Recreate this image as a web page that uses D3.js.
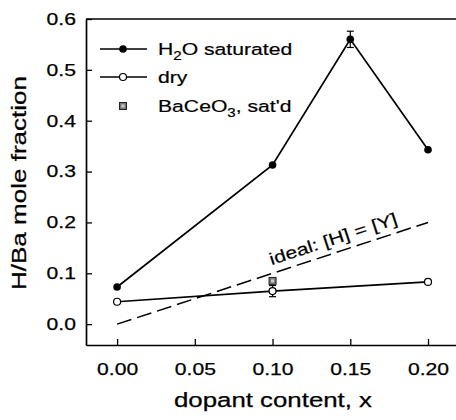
<!DOCTYPE html>
<html><head><meta charset="utf-8">
<script src="https://cdn.jsdelivr.net/npm/d3@7"></script>
<style>
html,body{margin:0;padding:0;background:#fff;}
svg{display:block;}
text{font-family:"Liberation Sans",Arial,Helvetica,sans-serif;fill:#000;}
</style></head>
<body>
<svg id="chart" width="456" height="420"></svg>
<script>
// ---- data ----
const xTicks = [0.00, 0.05, 0.10, 0.15, 0.20];
const yTicks = [0.0, 0.1, 0.2, 0.3, 0.4, 0.5, 0.6];
const satX = [0.00, 0.10, 0.15, 0.20];
const satY = [0.073, 0.313, 0.560, 0.343];
const satErr = [0, 0, 0.016, 0];
const dryX = [0.00, 0.10, 0.20];
const dryY = [0.044, 0.065, 0.083];
const dryErr = [0, 0.011, 0];
const ceX = [0.10];
const ceY = [0.085];
const idealX = [0.00, 0.20];
const idealY = [0.00, 0.20];

const svg = d3.select("#chart");
const x = d3.scaleLinear().domain([-0.02, 0.218]).range([86, 456]);
const y = d3.scaleLinear().domain([-0.041, 0.6]).range([345, 19]);
const FS = 16.8;
const STRETCH = 1.26;

function stretch(sel, factor) {
  sel.each(function() {
    const L = this.getComputedTextLength();
    this.setAttribute("textLength", (L * factor).toFixed(2));
    this.setAttribute("lengthAdjust", "spacingAndGlyphs");
  });
}

// axes
const xAxis = d3.axisBottom(x).tickValues(xTicks).tickFormat(d3.format(".2f"))
  .tickSizeInner(-6).tickSizeOuter(0).tickPadding(18);
const yAxis = d3.axisLeft(y).tickValues(yTicks).tickFormat(d3.format(".1f"))
  .tickSizeInner(-6).tickSizeOuter(0).tickPadding(10);

const gx = svg.append("g").attr("transform", "translate(0,345)").call(xAxis);
const gy = svg.append("g").attr("transform", "translate(86,0)").call(yAxis);
[gx, gy].forEach(g => {
  g.select(".domain").attr("stroke", "#000").attr("stroke-width", 1.7);
  g.selectAll(".tick line").attr("stroke", "#000").attr("stroke-width", 1.3);
  g.selectAll(".tick text").attr("font-size", FS).attr("fill", "#000")
    .attr("font-family", "Liberation Sans, Arial, sans-serif")
    .attr("stroke", "#000").attr("stroke-width", 0.25);
});
stretch(gx.selectAll(".tick text"), STRETCH);
stretch(gy.selectAll(".tick text"), STRETCH);
// top frame line
svg.append("line").attr("x1", x.range()[0]).attr("x2", x.range()[1])
  .attr("y1", y(0.6)).attr("y2", y(0.6)).attr("stroke", "#000").attr("stroke-width", 1.7);

// axis titles
const xt = svg.append("text").attr("x", 273).attr("y", 407).attr("text-anchor", "middle")
  .attr("font-size", 20).attr("stroke", "#000").attr("stroke-width", 0.25).text("dopant content, x");
xt.attr("textLength", 198).attr("lengthAdjust", "spacingAndGlyphs");
const yt = svg.append("text").attr("transform", "translate(26,183) rotate(-90)")
  .attr("text-anchor", "middle").attr("font-size", 20).attr("stroke", "#000").attr("stroke-width", 0.25)
  .text("H/Ba mole fraction");
yt.attr("textLength", 214).attr("lengthAdjust", "spacingAndGlyphs");

// ideal dashed line
const line = d3.line().x(d => x(d[0])).y(d => y(d[1]));
svg.append("path").datum(d3.zip(idealX, idealY)).attr("d", line)
  .attr("fill", "none").attr("stroke", "#000").attr("stroke-width", 1.5)
  .attr("stroke-dasharray", "15,6");
const ang = Math.atan2(y(idealY[0]) - y(idealY[1]), x(idealX[1]) - x(idealX[0])) * 180 / Math.PI;
const lx = 0.101;
const it = svg.append("text")
  .attr("transform", `translate(${x(lx)},${y(lx)}) rotate(${-ang}) translate(0,-8)`)
  .attr("font-size", FS).attr("stroke", "#000").attr("stroke-width", 0.2).text("ideal: [H] = [Y]");
stretch(it, STRETCH);

// data lines
svg.append("path").datum(d3.zip(satX, satY)).attr("d", line)
  .attr("fill", "none").attr("stroke", "#000").attr("stroke-width", 1.7);
svg.append("path").datum(d3.zip(dryX, dryY)).attr("d", line)
  .attr("fill", "none").attr("stroke", "#000").attr("stroke-width", 1.7);

// error bars
function errBars(xs, ys, es) {
  xs.forEach((xv, i) => {
    if (!es[i]) return;
    const g = svg.append("g").attr("stroke", "#000").attr("stroke-width", 1.2);
    g.append("line").attr("x1", x(xv)).attr("x2", x(xv)).attr("y1", y(ys[i] - es[i])).attr("y2", y(ys[i] + es[i]));
    [ys[i] - es[i], ys[i] + es[i]].forEach(v =>
      g.append("line").attr("x1", x(xv) - 3.5).attr("x2", x(xv) + 3.5).attr("y1", y(v)).attr("y2", y(v)));
  });
}
errBars(satX, satY, satErr);
errBars(dryX, dryY, dryErr);

// markers
function filled(g, cx, cy) { g.append("circle").attr("cx", cx).attr("cy", cy).attr("r", 3.8).attr("fill", "#000"); }
function open(g, cx, cy) { g.append("circle").attr("cx", cx).attr("cy", cy).attr("r", 3.5).attr("fill", "#fff").attr("stroke", "#000").attr("stroke-width", 1.2); }
function square(g, cx, cy) {
  g.append("rect").attr("x", cx - 3.5).attr("y", cy - 3.5).attr("width", 7).attr("height", 7)
    .attr("fill", "#777").attr("stroke", "#222").attr("stroke-width", 1);
  g.append("rect").attr("x", cx - 1.5).attr("y", cy - 1.5).attr("width", 3).attr("height", 3).attr("fill", "#ccc");
}
satX.forEach((xv, i) => filled(svg, x(xv), y(satY[i])));
dryX.forEach((xv, i) => open(svg, x(xv), y(dryY[i])));
ceX.forEach((xv, i) => square(svg, x(xv), y(ceY[i])));

// legend
const leg = svg.append("g");
const rows = [49, 77, 106];
leg.append("line").attr("x1", 100).attr("x2", 147).attr("y1", rows[0]).attr("y2", rows[0]).attr("stroke", "#000").attr("stroke-width", 1.7);
filled(leg, 123, rows[0]);
leg.append("line").attr("x1", 100).attr("x2", 147).attr("y1", rows[1]).attr("y2", rows[1]).attr("stroke", "#000").attr("stroke-width", 1.7);
open(leg, 123, rows[1]);
square(leg, 123, rows[2]);

function legText(yy, main, sub, rest) {
  const t = leg.append("text").attr("x", 158).attr("y", yy + 6).attr("font-size", FS)
    .attr("stroke", "#000").attr("stroke-width", 0.2);
  t.append("tspan").text(main);
  if (sub) {
    t.append("tspan").attr("font-size", 12).attr("dy", 5).text(sub);
    t.append("tspan").attr("dy", -5).text(rest);
  }
  stretch(t, STRETCH);
}
legText(rows[0], "H", "2", "O saturated");
legText(rows[1], "dry");
legText(rows[2], "BaCeO", "3", ", sat'd");
</script>
</body></html>
